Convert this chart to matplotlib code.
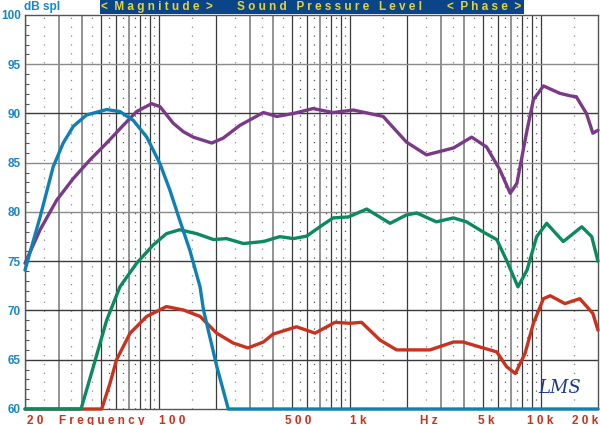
import matplotlib
matplotlib.use("Agg")
import matplotlib.pyplot as plt
from matplotlib.patches import Rectangle
import numpy as np

# ---------------- data (frequency in Hz, level in dB SPL) ----------------
blue_f = [20, 24, 28.1, 31.7, 35.8, 42, 53.5, 62.8, 73.8, 86.8, 101.8, 114.8, 129, 146, 165, 172, 202, 232, 20000]
blue_db = [74.1, 79.5, 84.6, 87.0, 88.7, 89.85, 90.4, 90.2, 89.3, 87.6, 84.9, 82.2, 79.2, 76.1, 72.4, 70.05, 64.3, 60, 60]

purple_f = [20, 24, 29.3, 35.8, 43.8, 53.5, 65.4, 76.8, 92, 101.8, 119.6, 135, 152, 190, 218, 267, 354, 416, 508,
            644, 820, 1048, 1500, 1986, 2530, 3500, 4360, 5220, 6120, 6940, 7520, 8500, 9180, 10360, 12620,
            14260, 15400, 17400, 18800, 20000]
purple_db = [74.8, 78.2, 81.2, 83.4, 85.3, 87.0, 88.8, 90.2, 91.0, 90.7, 89.0, 88.15, 87.6, 87.0, 87.5, 88.8, 90.1,
             89.7, 90.0, 90.5, 90.1, 90.35, 89.7, 87.1, 85.8, 86.5, 87.6, 86.6, 84.3, 81.9, 82.9, 88.3, 91.4, 92.8,
             92.05, 91.8, 91.7, 90.0, 88.0, 88.3]

green_f = [20, 39.3, 45.6, 53.5, 62.8, 76.8, 93.8, 110, 129, 158.6, 194, 227, 278, 354, 432, 508, 596, 700, 820,
           988, 1230, 1630, 1986, 2250, 2850, 3500, 4100, 4980, 5900, 6640, 7620, 8500, 9550, 10770, 13160,
           16440, 18540, 20000]
green_db = [60, 60, 64.3, 69.0, 72.4, 74.8, 76.65, 77.8, 78.2, 77.8, 77.2, 77.3, 76.8, 77.0, 77.5, 77.3, 77.55,
            78.5, 79.4, 79.5, 80.3, 78.85, 79.7, 79.9, 79.0, 79.4, 79.0, 78.0, 77.2, 75.1, 72.4, 74.1, 77.5,
            78.85, 77.0, 78.5, 77.5, 75.0]

red_f = [20, 50.4, 55.7, 60.3, 71, 86.8, 110, 135, 165, 201.6, 246, 294, 354, 398, 528, 660, 840, 1008, 1156,
         1444, 1764, 2336, 2640, 3500, 3936, 4800, 5900, 6640, 7380, 8300, 9180, 10360, 11240, 13420, 16060,
         18800, 20000]
red_db = [60, 60, 62.6, 65.0, 67.7, 69.4, 70.4, 70.05, 69.4, 67.7, 66.7, 66.2, 66.8, 67.6, 68.35, 67.7, 68.8,
          68.7, 68.8, 67.0, 66.0, 66.0, 66.0, 66.8, 66.8, 66.3, 65.8, 64.3, 63.6, 65.65, 68.7, 71.2, 71.5, 70.7,
          71.2, 69.7, 68.0]

y_ticks = [60, 65, 70, 75, 80, 85, 90, 95, 100]
x_labels = ["2 0", "F r e q u e n c y", "1 0 0", "5 0 0", "1 k", "H z", "5 k", "1 0 k", "2 0 k"]
x_label_pos = [20.5, 30, 100, 460, 1000, 2336, 4720, 8480, 20000]
x_label_ha = ["left", "left", "left", "left", "left", "left", "left", "left", "right"]

# ---------------- styling ----------------
C_BLUE = "#0f80b4"
C_PURPLE = "#7a3a88"
C_GREEN = "#0b8a5e"
C_RED = "#c8321e"
C_TICK_BLUE = "#1a86c8"
C_HEADER = "#0b4589"
C_YELLOW = "#e3d33a"
FAM = ["Liberation Sans", "DejaVu Sans"]

fig = plt.figure(figsize=(6.0, 4.25), dpi=100)
fig.patch.set_facecolor("white")
ax = fig.add_axes([25 / 600, 16 / 425, 573 / 600, 394 / 425])
ax.set_xscale("log")
ax.set_xlim(20, 20000)
ax.set_ylim(60, 100)

# vertical grid lines
major_v = list(range(20, 100, 10)) + list(range(100, 1000, 100)) + list(range(1000, 10000, 1000)) + [10000]
for f in major_v:
    lead = int(str(f)[0])
    if lead in (3, 4, 7):
        ax.axvline(f, color="#8a8a8a", lw=1.3, zorder=1)
    else:
        ax.axvline(f, color="#3a3a3a", lw=0.9, zorder=1)
minor_v = [25, 35, 45, 150, 250, 350, 450, 1500, 2500, 3500, 4500, 15000]
for f in minor_v:
    ax.axvline(f, color="#8a8a8a", lw=0.9, ls=(0, (1, 6.1)), zorder=1)
dense_v = [55, 65, 75, 85, 95, 550, 650, 750, 850, 950, 5500, 6500, 7500, 8500, 9500]
for f in dense_v:
    ax.axvline(f, color="#555555", lw=0.9, ls=(0, (1, 6.1)), zorder=1)

# horizontal grid lines
for v in y_ticks[1:-1]:
    col = "#8a8a8a" if v in (85, 95, 80) else "#3a3a3a"
    ax.axhline(v, color=col, lw=1.0, zorder=1)

# curves
kw = dict(lw=2.4, solid_capstyle="round", solid_joinstyle="round", clip_on=False, zorder=5)
ax.plot(red_f, red_db, color=C_RED, **kw)
ax.plot(green_f, green_db, color=C_GREEN, **kw)
ax.plot(purple_f, purple_db, color=C_PURPLE, **kw)
ax.plot(blue_f, blue_db, color=C_BLUE, **kw)

# spines
for s in ax.spines.values():
    s.set_color("#555555")
    s.set_linewidth(1.0)

# ticks
ax.set_yticks(y_ticks)
ax.set_yticklabels([str(v) for v in y_ticks])
ax.set_yticks(np.arange(60, 101, 1), minor=True)
ax.tick_params(axis="y", which="major", length=0, pad=3, labelcolor=C_TICK_BLUE, labelsize=8.5)
ax.tick_params(axis="y", which="minor", length=3, direction="in", color="#555555", width=0.8)
for lbl in ax.get_yticklabels():
    lbl.set_fontweight("bold")
    lbl.set_family(FAM)
ax.set_xticks([])
ax.set_xticks([], minor=True)

for lab, f, ha in zip(x_labels, x_label_pos, x_label_ha):
    ax.text(f, -0.014, lab, transform=ax.get_xaxis_transform(), ha=ha, va="top",
            color=C_RED, fontsize=8.5, fontweight="bold", family=FAM)

# header band
fig.patches.append(Rectangle((100 / 600, 1 - 14 / 425), 424 / 600, 14 / 425, transform=fig.transFigure,
                             facecolor=C_HEADER, edgecolor="none"))
hy = 1 - 7 / 425
fig.text(101 / 600, hy, "<  M a g n i t u d e  >", color=C_YELLOW, fontsize=8.5, fontweight="bold",
         ha="left", va="center", family=FAM)
fig.text(237 / 600, hy, "S o u n d   P r e s s u r e   L e v e l", color=C_YELLOW, fontsize=8.5,
         fontweight="bold", ha="left", va="center", family=FAM)
fig.text(447 / 600, hy, "<  P h a s e  >", color=C_YELLOW, fontsize=8.5, fontweight="bold",
         ha="left", va="center", family=FAM)
fig.text(24 / 600, hy, "dB spl", color=C_TICK_BLUE, fontsize=8.5, fontweight="bold",
         ha="left", va="center", family=FAM)

# LMS logo
ax.text(0.895, 0.03, "LMS", transform=ax.transAxes, color="#1a3c8c", fontsize=13, fontstyle="italic",
        family=["DejaVu Serif"], ha="left", va="bottom", zorder=6)

fig.savefig("out.png", dpi=100)
